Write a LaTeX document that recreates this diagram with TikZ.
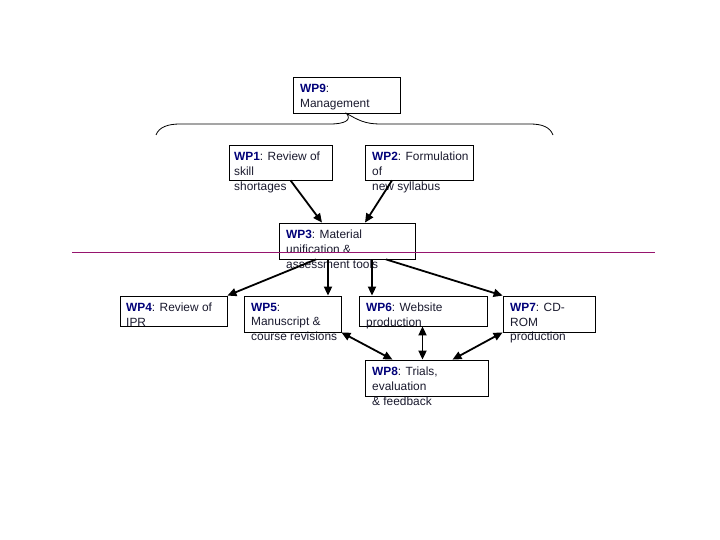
\documentclass[tikz,border=0pt]{standalone}
\usepackage{fontspec}
\setmainfont{Liberation Sans}
\usetikzlibrary{arrows.meta,fit,calc}
\definecolor{wpblue}{RGB}{0,0,120}
\definecolor{magline}{RGB}{150,20,110}
\definecolor{bodytxt}{RGB}{25,25,45}
\newcommand\wpl[1]{\textbf{\textcolor{wpblue}{#1}}}
\begin{document}
\begin{tikzpicture}[x=1pt,y=-1pt,
  box/.style={draw,line width=0.8pt,inner sep=0pt},
  lbl/.style={anchor=north west,inner sep=0pt,align=left,text=bodytxt,font=\fontsize{11.9}{14.6}\selectfont},
  conn/.style={line width=1.8pt,-{Triangle[length=9pt,width=8pt]}},
  dconn/.style={line width=1.8pt,{Triangle[length=9pt,width=8pt]}-{Triangle[length=9pt,width=8pt]}},
  brace/.style={line width=0.8pt}]
\useasboundingbox (0,0) rectangle (720,540);

% boxes
\node[box,fit={(293,77) (400,113)}] (wp9) {};
\node[box,fit={(229,145) (332,180)}] (wp1) {};
\node[box,fit={(365,145) (473,180)}] (wp2) {};
\node[box,fit={(279,223) (415,259)}] (wp3) {};
\node[box,fit={(120,296) (227,326)}] (wp4) {};
\node[box,fit={(244,296) (341,332)}] (wp5) {};
\node[box,fit={(359,296) (487,326)}] (wp6) {};
\node[box,fit={(503,296) (595,332)}] (wp7) {};
\node[box,fit={(365,360) (488,396)}] (wp8) {};

% texts
\node[lbl] (t9) at (300,84) {\wpl{WP9}:\\Management};
\node[lbl] (t1) at (234,152) {\wpl{WP1}: Review of\\skill\\shortages};
\node[lbl] (t2) at (372,152) {\wpl{WP2}: Formulation\\of\\new syllabus};
\node[lbl] (t3) at (286,230) {\wpl{WP3}: Material\\unification \&\\assessment tools};
\node[lbl] (t4) at (126,303) {\wpl{WP4}: Review of\\IPR};
\node[lbl] (t5) at (251,303) {\wpl{WP5}:\\Manuscript \&\\course revisions};
\node[lbl] (t6) at (366,303) {\wpl{WP6}: Website\\production};
\node[lbl] (t7) at (510,303) {\wpl{WP7}: CD-\\ROM\\production};
\node[lbl] (t8) at (372,367) {\wpl{WP8}: Trials,\\evaluation\\\& feedback};

% brace under WP9
\draw[brace] (156,135) .. controls (159,127) and (168,124) .. (180,124)
  -- (330,124) .. controls (345,124) and (352,120) .. (wp9.south)
  .. controls (358,120) and (365,124) .. (380,124)
  -- (530,124) .. controls (542,124) and (550,127) .. (553,135);

% magenta line
\coordinate (mL) at (72,252);
\coordinate (mR) at (655,252);
\draw[magline,line width=0.9pt] (mL) -- (mR);

% connectors
\draw[conn] ([xshift=10]wp1.south) -- ([xshift=-25]wp3.north);
\draw[conn] ([xshift=-27]wp2.south) -- ([xshift=18]wp3.north);
\draw[conn] ([xshift=-31]wp3.south) -- (wp4.north east);
\draw[conn] ([xshift=-19]wp3.south) -- ([xshift=-19]wp3.south |- wp5.north);
\draw[conn] ([xshift=25]wp3.south) -- ([xshift=25]wp3.south |- wp6.north);
\draw[conn] ([xshift=39]wp3.south) -- (wp7.north west);
\draw[dconn] (wp5.south east) -- ([xshift=-34]wp8.north);
\draw[dconn] ([xshift=-4]wp8.north |- wp6.south) -- ([xshift=-4]wp8.north);
\draw[dconn] (wp7.south west) -- ([xshift=26]wp8.north);
\end{tikzpicture}
\end{document}
